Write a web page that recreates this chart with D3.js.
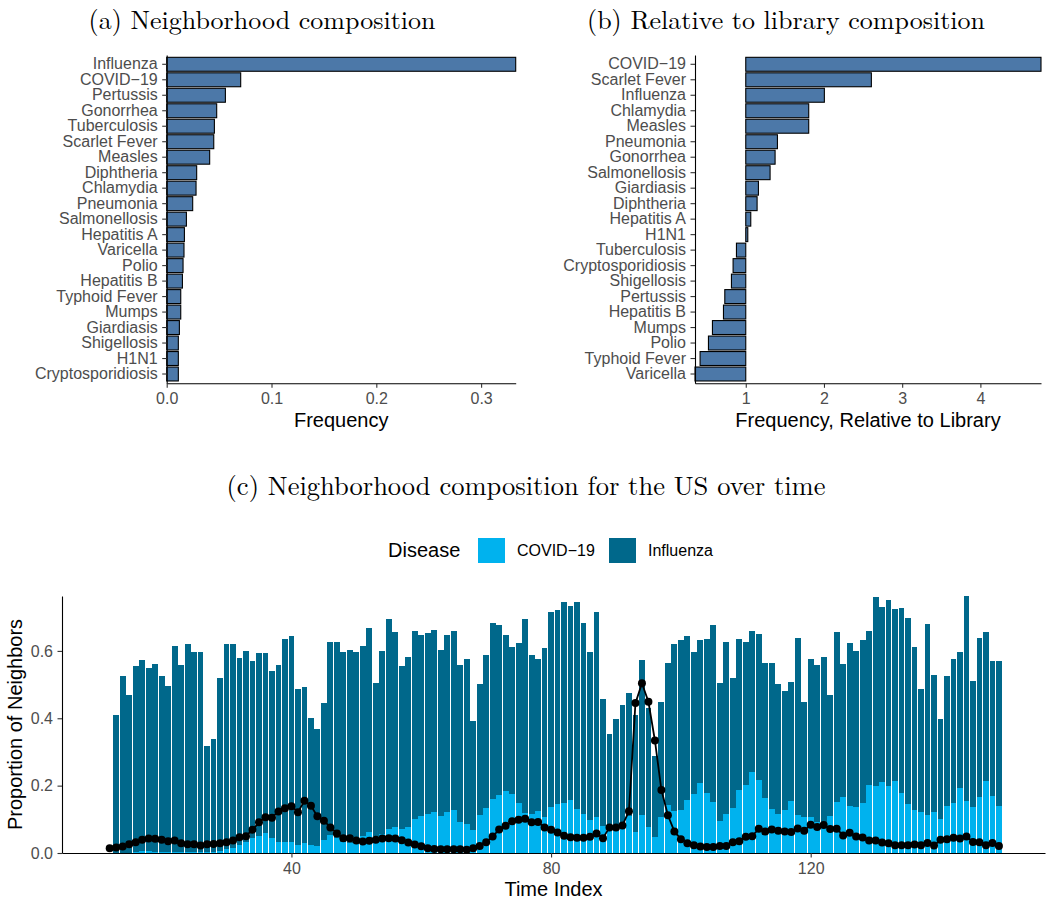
<!DOCTYPE html>
<html>
<head>
<meta charset="utf-8">
<script src="https://cdn.jsdelivr.net/npm/d3@7"></script>
<style>
  body { margin: 0; background: #fff; }
  text { font-family: "Liberation Sans", Arial, sans-serif; }
</style>
</head>
<body>
<svg id="chart" width="1048" height="903"></svg>
<script>
// (a) neighborhood composition, top to bottom
const neighDiseases = ["Influenza", "COVID\u221219", "Pertussis", "Gonorrhea", "Tuberculosis", "Scarlet Fever",
  "Measles", "Diphtheria", "Chlamydia", "Pneumonia", "Salmonellosis", "Hepatitis A", "Varicella", "Polio",
  "Hepatitis B", "Typhoid Fever", "Mumps", "Giardiasis", "Shigellosis", "H1N1", "Cryptosporidiosis"];
const neighFreq = [0.333, 0.0706, 0.056, 0.0477, 0.0455, 0.0449, 0.041, 0.0286, 0.028, 0.0248, 0.0188,
  0.0169, 0.0165, 0.0156, 0.015, 0.0134, 0.0134, 0.0121, 0.0111, 0.0111, 0.0111];
const neighTicks = [0, 0.1, 0.2, 0.3];

// (b) relative to library composition, top to bottom
const relDiseases = ["COVID\u221219", "Scarlet Fever", "Influenza", "Chlamydia", "Measles", "Pneumonia",
  "Gonorrhea", "Salmonellosis", "Giardiasis", "Diphtheria", "Hepatitis A", "H1N1", "Tuberculosis",
  "Cryptosporidiosis", "Shigellosis", "Pertussis", "Hepatitis B", "Mumps", "Polio", "Typhoid Fever", "Varicella"];
const relFreq = [4.775, 2.606, 2.005, 1.805, 1.805, 1.405, 1.375, 1.311, 1.162, 1.145, 1.064, 1.026,
  0.881, 0.838, 0.817, 0.732, 0.715, 0.574, 0.523, 0.416, 0.351];
const relTicks = [1, 2, 3, 4];

// (c) US over time
const barStart = 13;   // first time index with bars
const lineStart = 12;  // first time index of the line
const covid = [0.001, 0.001, 0.001, 0.002, 0.005, 0.005, 0.002, 0.002, 0.002, 0.002, 0.002, 0.002, 0.002,
  0.002, 0.002, 0.003, 0.007, 0.011, 0.014, 0.024, 0.034, 0.044, 0.051, 0.06, 0.044, 0.034, 0.034, 0.034,
  0.024, 0.029, 0.024, 0.021, 0.039, 0.053, 0.045, 0.033, 0.03, 0.048, 0.05, 0.062, 0.05, 0.055, 0.071,
  0.077, 0.07, 0.077, 0.101, 0.11, 0.116, 0.122, 0.11, 0.122, 0.128, 0.092, 0.086, 0.068, 0.113, 0.134,
  0.16, 0.172, 0.184, 0.175, 0.149, 0.119, 0.116, 0.125, 0.107, 0.137, 0.146, 0.149, 0.157, 0.131, 0.116,
  0.098, 0.107, 0.08, 0.07, 0.085, 0.09, 0.11, 0.062, 0.113, 0.077, 0.048, 0.107, 0.143, 0.125, 0.128,
  0.157, 0.175, 0.208, 0.178, 0.151, 0.095, 0.116, 0.134, 0.187, 0.202, 0.241, 0.217, 0.163, 0.131, 0.116,
  0.128, 0.154, 0.113, 0.107, 0.107, 0.092, 0.092, 0.11, 0.151, 0.166, 0.14, 0.137, 0.149, 0.202, 0.199,
  0.211, 0.199, 0.214, 0.178, 0.146, 0.128, 0.122, 0.113, 0.122, 0.101, 0.14, 0.149, 0.193, 0.154, 0.137,
  0.166, 0.214, 0.169, 0.14];
const influenza = [0.409, 0.525, 0.468, 0.553, 0.568, 0.545, 0.559, 0.524, 0.494, 0.613, 0.556, 0.619,
  0.595, 0.595, 0.316, 0.336, 0.513, 0.61, 0.607, 0.555, 0.566, 0.526, 0.543, 0.534, 0.497, 0.524, 0.602,
  0.611, 0.463, 0.464, 0.377, 0.347, 0.407, 0.574, 0.582, 0.564, 0.573, 0.549, 0.565, 0.606, 0.455, 0.545,
  0.624, 0.579, 0.486, 0.505, 0.558, 0.538, 0.537, 0.54, 0.493, 0.526, 0.531, 0.466, 0.49, 0.324, 0.389,
  0.454, 0.523, 0.505, 0.464, 0.437, 0.475, 0.576, 0.472, 0.451, 0.502, 0.579, 0.576, 0.597, 0.577, 0.615,
  0.567, 0.499, 0.609, 0.378, 0.284, 0.313, 0.35, 0.365, 0.348, 0.46, 0.354, 0.24, 0.342, 0.422, 0.496,
  0.505, 0.488, 0.422, 0.425, 0.458, 0.526, 0.41, 0.511, 0.386, 0.449, 0.425, 0.418, 0.434, 0.402, 0.434,
  0.386, 0.353, 0.354, 0.526, 0.342, 0.469, 0.466, 0.49, 0.359, 0.505, 0.395, 0.484, 0.463, 0.484, 0.457,
  0.561, 0.52, 0.553, 0.511, 0.55, 0.552, 0.484, 0.365, 0.567, 0.407, 0.297, 0.386, 0.427, 0.404, 0.609,
  0.374, 0.473, 0.442, 0.401, 0.43];
const lineVals = [0.014, 0.016, 0.019, 0.026, 0.032, 0.039, 0.043, 0.042, 0.039, 0.035, 0.037, 0.029,
  0.026, 0.026, 0.022, 0.026, 0.027, 0.029, 0.032, 0.037, 0.047, 0.05, 0.069, 0.091, 0.106, 0.105, 0.123,
  0.133, 0.139, 0.121, 0.155, 0.14, 0.109, 0.096, 0.076, 0.058, 0.044, 0.044, 0.037, 0.034, 0.036, 0.039,
  0.043, 0.044, 0.043, 0.038, 0.031, 0.025, 0.02, 0.014, 0.012, 0.011, 0.011, 0.011, 0.011, 0.01, 0.014,
  0.021, 0.032, 0.049, 0.07, 0.081, 0.094, 0.099, 0.102, 0.091, 0.092, 0.076, 0.069, 0.061, 0.051, 0.047,
  0.045, 0.045, 0.048, 0.058, 0.044, 0.076, 0.076, 0.082, 0.124, 0.445, 0.504, 0.449, 0.334, 0.187, 0.112,
  0.064, 0.041, 0.029, 0.023, 0.019, 0.018, 0.018, 0.021, 0.021, 0.032, 0.035, 0.048, 0.05, 0.072, 0.064,
  0.07, 0.066, 0.064, 0.062, 0.073, 0.066, 0.084, 0.077, 0.083, 0.071, 0.072, 0.052, 0.06, 0.049, 0.046,
  0.037, 0.037, 0.031, 0.029, 0.023, 0.023, 0.023, 0.025, 0.023, 0.03, 0.022, 0.039, 0.041, 0.045, 0.043,
  0.049, 0.033, 0.032, 0.023, 0.03, 0.021];
const timeTicks = [40, 80, 120];
const propTicks = [0, 0.2, 0.4, 0.6];
const seriesNames = ["COVID\u221219", "Influenza"];

const barFill = "#4C78A8";
const covidColor = "#00B2EE";
const fluColor = "#00688B";
const tickColor = "#4D4D4D";
const serif = "'Latin Modern Roman', 'CMU Serif', 'Liberation Serif', 'DejaVu Serif', serif";

const svg = d3.select("#chart");

function styleAxis(g) {
  g.select(".domain").attr("stroke", "#000").attr("stroke-width", 1.1);
  g.selectAll(".tick line").attr("stroke", "#333").attr("stroke-width", 1.1);
  g.selectAll(".tick text").attr("fill", tickColor).style("font-size", "16px")
    .style("font-family", "'Liberation Sans', Arial, sans-serif");
}

function title(x, y, txt, size) {
  svg.append("text")
    .attr("x", x).attr("y", y)
    .attr("text-anchor", "middle")
    .style("font-family", serif)
    .style("font-size", size + "px")
    .attr("fill", "#000")
    .text(txt);
}

function horizBars(cfg) {
  const x = d3.scaleLinear().domain(cfg.domain).range([cfg.left, cfg.right]);
  const y = d3.scaleBand().domain(cfg.cats).range([cfg.top, cfg.bottom])
    .paddingInner(0.1).paddingOuter(0.15);
  const g = svg.append("g");

  g.selectAll("rect")
    .data(cfg.cats.map((c, i) => ({ c, v: cfg.vals[i] })))
    .join("rect")
    .attr("x", d => Math.min(x(cfg.base), x(d.v)))
    .attr("width", d => Math.abs(x(d.v) - x(cfg.base)))
    .attr("y", d => y(d.c))
    .attr("height", y.bandwidth())
    .attr("fill", barFill)
    .attr("stroke", "#000")
    .attr("stroke-width", 1.1);

  const ax = g.append("g").attr("transform", `translate(${cfg.left},0)`)
    .call(d3.axisLeft(y).tickSize(4.5).tickPadding(4.5).tickSizeOuter(0));
  styleAxis(ax);

  const bx = g.append("g").attr("transform", `translate(0,${cfg.bottom})`)
    .call(d3.axisBottom(x).tickValues(cfg.ticks).tickFormat(cfg.fmt).tickSize(4.5).tickPadding(5).tickSizeOuter(0));
  styleAxis(bx);

  g.append("text")
    .attr("x", (cfg.left + cfg.right) / 2).attr("y", cfg.bottom + 44)
    .attr("text-anchor", "middle")
    .style("font-size", "20px")
    .attr("fill", "#000")
    .text(cfg.xTitle);
}

const titleSize = 26;

// ---- panel (a)
title(262, 29, "(a) Neighborhood composition", titleSize);
horizBars({
  cats: neighDiseases, vals: neighFreq, base: 0,
  domain: [0, d3.max(neighFreq)], ticks: neighTicks, fmt: d3.format(".1f"),
  left: 166.7, right: 515.7, top: 55, bottom: 383.3, xTitle: "Frequency"
});

// ---- panel (b)
title(786, 29, "(b) Relative to library composition", titleSize);
horizBars({
  cats: relDiseases, vals: relFreq, base: 1,
  domain: [d3.min(relFreq), d3.max(relFreq)], ticks: relTicks, fmt: d3.format("d"),
  left: 695, right: 1041, top: 55, bottom: 383.3, xTitle: "Frequency, Relative to Library"
});

// ---- panel (c)
title(526, 495, "(c) Neighborhood composition for the US over time", 26.5);

const cLeft = 62, cRight = 1045, cTop = 596, cBottom = 853;
const times = d3.range(barStart, barStart + covid.length);
const lineTimes = d3.range(lineStart, lineStart + lineVals.length);
const stackRows = times.map((t, i) => ({ t, covid: covid[i], flu: influenza[i] }));
const stacked = d3.stack().keys(["covid", "flu"])(stackRows);

const xc = d3.scaleLinear().domain([4.65, 156.1]).range([cLeft, cRight]);
const yc = d3.scaleLinear().domain([0, d3.max(stackRows, d => d.covid + d.flu)]).range([cBottom, cTop]);
const colorC = d3.scaleOrdinal().domain(["covid", "flu"]).range([covidColor, fluColor]);
const bw = 0.9;

const gc = svg.append("g");
gc.selectAll("g.layer")
  .data(stacked)
  .join("g")
  .attr("class", "layer")
  .attr("fill", d => colorC(d.key))
  .selectAll("rect")
  .data(d => d)
  .join("rect")
  .attr("x", d => xc(d.data.t - bw / 2))
  .attr("width", xc(bw) - xc(0))
  .attr("y", d => yc(d[1]))
  .attr("height", d => yc(d[0]) - yc(d[1]))
  .attr("shape-rendering", "crispEdges");

const lineData = lineTimes.map((t, i) => ({ t, v: lineVals[i] }));
gc.append("path")
  .datum(lineData)
  .attr("fill", "none")
  .attr("stroke", "#000")
  .attr("stroke-width", 1.8)
  .attr("d", d3.line().x(d => xc(d.t)).y(d => yc(d.v)));
gc.selectAll("circle")
  .data(lineData)
  .join("circle")
  .attr("cx", d => xc(d.t))
  .attr("cy", d => yc(d.v))
  .attr("r", 4)
  .attr("fill", "#000");

const cy = gc.append("g").attr("transform", `translate(${cLeft},0)`)
  .call(d3.axisLeft(yc).tickValues(propTicks).tickFormat(d3.format(".1f")).tickSize(4.5).tickPadding(4.5).tickSizeOuter(0));
styleAxis(cy);
const cx = gc.append("g").attr("transform", `translate(0,${cBottom})`)
  .call(d3.axisBottom(xc).tickValues(timeTicks).tickFormat(d3.format("d")).tickSize(4.5).tickPadding(5).tickSizeOuter(0));
styleAxis(cx);

gc.append("text")
  .attr("x", (cLeft + cRight) / 2).attr("y", 896)
  .attr("text-anchor", "middle")
  .style("font-size", "20px")
  .text("Time Index");
gc.append("text")
  .attr("transform", `translate(22,${(cTop + cBottom) / 2}) rotate(-90)`)
  .attr("text-anchor", "middle")
  .style("font-size", "20px")
  .text("Proportion of Neighbors");

// legend
const lg = svg.append("g");
lg.append("text").attr("x", 388).attr("y", 557).style("font-size", "20px").text("Disease");
const legendX = [478, 609];
const legendLabelX = [517, 648];
seriesNames.forEach((name, i) => {
  lg.append("rect")
    .attr("x", legendX[i]).attr("y", 538)
    .attr("width", 27).attr("height", 25)
    .attr("fill", colorC(["covid", "flu"][i]));
  lg.append("text")
    .attr("x", legendLabelX[i]).attr("y", 556)
    .style("font-size", "16px")
    .text(name);
});
</script>
</body>
</html>
